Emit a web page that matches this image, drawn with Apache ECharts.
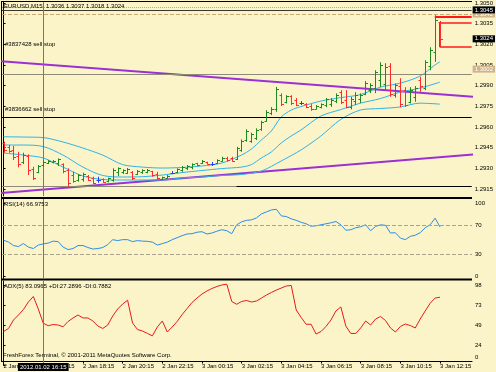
<!DOCTYPE html>
<html>
<head>
<meta charset="utf-8">
<script src="https://cdn.jsdelivr.net/npm/echarts@6.0.0/dist/echarts.min.js"></script>
<style>
html,body{margin:0;padding:0;background:#faf4c8;}
#chart{width:496px;height:372px;}
</style>
</head>
<body>
<div id="chart"></div>
<script>
// ---------------- DATA ----------------
const symbolName = 'EURUSD,M15';
const timeTickIndex = [0, 8, 16, 24, 32, 40, 48, 56, 64, 72, 80, 88];
const timeLabels = ['2 Jan 14:15','2 Jan 16:15','2 Jan 18:15','2 Jan 20:15','2 Jan 22:15','3 Jan 00:15',
                    '3 Jan 02:15','3 Jan 04:15','3 Jan 06:15','3 Jan 08:15','3 Jan 10:15','3 Jan 12:15'];
const crossIndex = 8;
const crossLabel = '2012.01.02 16:15';
const priceTicks = [1.2915, 1.2930, 1.2945, 1.2960, 1.2975, 1.2990, 1.3005, 1.3020, 1.3035, 1.3050];
const rsiTicks = [0, 30, 70, 100];
const rsiLevels = [30, 70];
const adxTicks = [0, 24, 49, 73, 98];

// bars: [open, high, low, close], 15-minute bars from 2 Jan 14:15
const ohlc = [
[1.29483,1.29493,1.29413,1.29433],[1.29454,1.29469,1.29413,1.29425],[1.29433,1.29462,1.29360,1.29382],
[1.29389,1.29420,1.29307,1.29331],[1.29346,1.29413,1.29331,1.29396],[1.29389,1.29401,1.29251,1.29288],
[1.29295,1.29311,1.29215,1.29230],[1.29273,1.29324,1.29264,1.29317],[1.29324,1.29360,1.29311,1.29346],
[1.29338,1.29360,1.29331,1.29353],[1.29346,1.29360,1.29336,1.29353],[1.29338,1.29372,1.29317,1.29367],
[1.29331,1.29336,1.29264,1.29280],[1.29288,1.29300,1.29166,1.29193],[1.29251,1.29275,1.29195,1.29208],
[1.29215,1.29259,1.29203,1.29251],[1.29222,1.29268,1.29203,1.29259],[1.29244,1.29251,1.29208,1.29215],
[1.29230,1.29239,1.29186,1.29193],[1.29215,1.29239,1.29195,1.29215],[1.29222,1.29227,1.29195,1.29201],
[1.29208,1.29232,1.29198,1.29230],[1.29215,1.29300,1.29203,1.29288],[1.29273,1.29307,1.29244,1.29302],
[1.29273,1.29293,1.29259,1.29288],[1.29266,1.29302,1.29259,1.29295],[1.29273,1.29280,1.29215,1.29230],
[1.29259,1.29288,1.29251,1.29280],[1.29273,1.29293,1.29259,1.29288],[1.29273,1.29295,1.29264,1.29285],
[1.29280,1.29282,1.29239,1.29251],[1.29259,1.29275,1.29220,1.29230],[1.29222,1.29239,1.29215,1.29237],
[1.29230,1.29251,1.29224,1.29244],[1.29269,1.29280,1.29259,1.29269],[1.29273,1.29300,1.29264,1.29295],
[1.29288,1.29317,1.29275,1.29309],[1.29302,1.29324,1.29288,1.29317],[1.29309,1.29336,1.29293,1.29331],
[1.29338,1.29340,1.29317,1.29324],[1.29335,1.29360,1.29331,1.29353],[1.29346,1.29348,1.29328,1.29331],
[1.29331,1.29346,1.29317,1.29331],[1.29335,1.29365,1.29331,1.29360],[1.29353,1.29384,1.29348,1.29378],
[1.29378,1.29384,1.29348,1.29360],[1.29375,1.29384,1.29348,1.29353],[1.29367,1.29456,1.29360,1.29447],
[1.29433,1.29510,1.29420,1.29498],[1.29505,1.29583,1.29493,1.29570],[1.29498,1.29558,1.29485,1.29549],
[1.29520,1.29590,1.29505,1.29578],[1.29585,1.29645,1.29572,1.29636],[1.29643,1.29722,1.29638,1.29708],
[1.29701,1.29744,1.29686,1.29730],[1.29730,1.29891,1.29710,1.29875],[1.29831,1.29844,1.29752,1.29766],
[1.29780,1.29831,1.29771,1.29824],[1.29824,1.29831,1.29759,1.29773],[1.29795,1.29810,1.29752,1.29759],
[1.29773,1.29788,1.29759,1.29773],[1.29766,1.29773,1.29737,1.29744],[1.29752,1.29766,1.29717,1.29730],
[1.29733,1.29759,1.29728,1.29752],[1.29744,1.29771,1.29735,1.29766],[1.29759,1.29810,1.29744,1.29802],
[1.29766,1.29810,1.29746,1.29795],[1.29788,1.29844,1.29773,1.29831],[1.29853,1.29867,1.29766,1.29780],
[1.29795,1.29867,1.29735,1.29744],[1.29744,1.29819,1.29728,1.29802],[1.29788,1.29853,1.29759,1.29831],
[1.29802,1.29844,1.29773,1.29831],[1.29838,1.29933,1.29831,1.29918],[1.29867,1.29918,1.29846,1.29904],
[1.29882,1.30012,1.29846,1.29998],[1.29940,1.30070,1.29889,1.30049],[1.29911,1.30063,1.29867,1.30034],
[1.30041,1.30063,1.29819,1.29838],[1.29831,1.29916,1.29813,1.29904],[1.29897,1.29954,1.29744,1.29766],
[1.29867,1.29889,1.29746,1.29759],[1.29780,1.29889,1.29771,1.29867],[1.29817,1.29897,1.29783,1.29882],
[1.29940,1.29964,1.29855,1.29897],[1.29882,1.30085,1.29867,1.30070],[1.30041,1.30179,1.30012,1.30157],
[1.30143,1.30411,1.30073,1.30375],[1.3036,1.3037,1.3018,1.3024]
];

// three band lines: [bar index, price]
const bandUpper = [[0,1.29529],[4,1.29527],[8,1.29523],[12,1.29491],[16,1.29447],[20,1.29396],[24,1.29327],
  [28,1.29309],[32,1.29302],[36,1.29306],[40,1.29317],[44,1.29338],[48,1.29396],[50,1.29440],[52,1.29505],
  [54,1.29570],[56,1.29672],[58,1.29722],[60,1.29748],[64,1.29788],[68,1.29813],[72,1.29835],[76,1.29889],
  [80,1.29918],[84,1.29969],[87,1.30049],[88,1.30073]];
const bandMiddle = [[0,1.29469],[4,1.29469],[8,1.29458],[12,1.29396],[16,1.29309],[20,1.29248],[24,1.29237],
  [28,1.29239],[32,1.29251],[36,1.29269],[40,1.29284],[44,1.29298],[48,1.29309],[50,1.29327],[52,1.29375],
  [54,1.29418],[56,1.29483],[58,1.29534],[60,1.29578],[64,1.29679],[68,1.29726],[72,1.29773],[76,1.29806],
  [80,1.29853],[84,1.29882],[88,1.29925]];
const bandLower = [[0,1.29411],[4,1.29396],[8,1.29375],[12,1.29309],[16,1.29244],[20,1.29219],[24,1.29215],
  [28,1.29215],[32,1.29215],[36,1.29230],[40,1.29237],[44,1.29248],[48,1.29255],[52,1.29280],[56,1.29353],
  [60,1.29433],[64,1.29534],[68,1.29654],[72,1.29723],[76,1.29734],[80,1.29745],[84,1.29773],[88,1.29766]];

// trend lines: [bar index, price]
const trendDown = [[-1,1.30078],[95,1.29818]];
const trendUp = [[-1,1.29120],[95,1.29401]];

// horizontal objects (prices)
const dottedLevel = 1.3047;
const solidBoxLevel = 1.3045;
const tanDashLevel = 1.3042;
const bidLevel = 1.3024;
const tradeBoxLevel = 1.3002;
const greyLevels = [1.2998, 1.2917];
const blackSegment = [47, 1.2917];
const orderLevels = [1.3014, 1.2967];
const orderNames = ['#3837428 sell stop', '#3836662 sell stop'];
const redHigh = [87, 1.3040];
const redBox = [88, 1.3036, 1.3018];

const rsiValues = [
49.0,46.3,41.6,40.2,44.3,39.5,37.5,42.3,43.9,45.0,
47.7,47.0,39.5,36.1,37.5,41.6,41.6,38.9,36.8,37.5,
38.9,42.9,49.7,48.4,49.7,49.7,47.0,48.4,47.7,47.4,
46.3,42.3,44.3,46.3,49.7,52.4,55.2,57.5,57.9,59.9,
60.6,57.5,58.8,61.3,63.3,62.0,57.9,70.1,74.2,76.2,
76.9,79.6,85.1,87.8,90.5,91.4,82.3,81.4,78.3,76.2,
73.5,71.5,68.1,68.7,70.1,71.5,72.8,74.6,70.1,62.6,
63.3,66.0,67.4,70.1,62.0,67.8,70.1,69.4,58.8,59.2,
51.8,49.7,54.2,55.8,59.2,66.0,70.1,79.2,66.9753];

const adxValues = [
41.3,45.0,55.3,61.4,68.1,77.3,84.0,68.7,51.3,48.4,
49.8,49.2,47.1,53.5,57.8,61.4,57.8,57.8,54.1,48.0,
45.0,49.2,60.2,68.7,74.8,79.5,51.7,43.7,41.9,38.9,
36.0,46.8,54.1,40.7,46.8,53.5,62.0,69.3,76.7,82.1,
87.0,90.7,93.7,96.2,98.0,99.0,77.9,74.5,77.9,79.1,
77.3,78.5,82.1,85.8,88.9,91.9,94.3,96.8,97.4,67.5,
58.4,50.1,50.1,38.2,41.3,47.4,55.3,66.3,71.2,48.0,
38.9,38.9,45.6,54.1,49.2,56.5,59.6,54.7,45.6,40.7,
47.4,50.4,48.6,45.6,56.5,66.3,75.7,82.1,83.0965];
const plusDI = 27.2896, minusDI = 0.7882;

// ---------------- STYLE / LAYOUT ----------------
const FONT = '"Liberation Sans", Arial, sans-serif';
const UP = '#1d8a1d', DOWN = '#ff2b2b', DOJI = '#1f3dff';
const BAND = '#2fb3ea', PURPLE = '#9b30d4';
const CLEAR = 'rgba(0,0,0,0)';
const XMIN = -0.32, XMAX = 94.44;
const txt = {fontSize: 6, fontFamily: FONT, color: '#000'};

const last = ohlc[ohlc.length - 1];
const chart = echarts.init(document.getElementById('chart'), null, {renderer: 'canvas'});

function renderBar(params, api) {
  const i = api.value(0), o = api.value(1), h = api.value(2), l = api.value(3), c = api.value(4);
  const pH = api.coord([i, h]), pL = api.coord([i, l]), pO = api.coord([i, o]), pC = api.coord([i, c]);
  const col = c > o ? UP : (c < o ? DOWN : DOJI);
  const x = Math.round(pH[0]) + 0.5;
  const st = {stroke: col, lineWidth: 1};
  return {type: 'group', children: [
    {type: 'line', shape: {x1: x, y1: pH[1], x2: x, y2: pL[1]}, style: st},
    {type: 'line', shape: {x1: x - 2, y1: Math.round(pO[1]) + 0.5, x2: x, y2: Math.round(pO[1]) + 0.5}, style: st},
    {type: 'line', shape: {x1: x, y1: Math.round(pC[1]) + 0.5, x2: x + 2.5, y2: Math.round(pC[1]) + 0.5}, style: st}
  ]};
}

const boxLabel = (text, bg) => ({show: true, position: 'end', distance: 1, formatter: text,
  backgroundColor: bg, color: '#fff', padding: [1, 2, 0, 2], fontSize: 6, fontFamily: FONT});
const noLabel = {show: false};
const crossLine = {xAxis: crossIndex, lineStyle: {color: '#77776a', width: 1, type: 'solid'}, label: noLabel};

const mainMarks = [
  {yAxis: dottedLevel, lineStyle: {color: '#b3ab8c', type: 'dotted', width: 1}, label: noLabel},
  {yAxis: tanDashLevel, lineStyle: {color: '#c9a977', type: 'dashed', width: 1}, label: boxLabel(tanDashLevel.toFixed(4), '#d2b48c')},
  {yAxis: solidBoxLevel, lineStyle: {color: '#3a3a2a', type: 'solid', width: 1}, label: boxLabel(solidBoxLevel.toFixed(4), '#000')},
  {yAxis: tradeBoxLevel, lineStyle: {color: CLEAR, width: 1}, label: boxLabel(tradeBoxLevel.toFixed(4), '#d2b48c')},
  {yAxis: bidLevel, lineStyle: {color: CLEAR, width: 1}, label: boxLabel(bidLevel.toFixed(4), '#000')},
  {yAxis: greyLevels[0], lineStyle: {color: '#8d8a7a', type: 'solid', width: 1}, label: noLabel},
  {yAxis: greyLevels[1], lineStyle: {color: '#8d8a7a', type: 'solid', width: 1}, label: noLabel},
  {yAxis: orderLevels[0], lineStyle: {color: CLEAR, width: 1},
    label: {show: true, position: 'insideStartTop', distance: [3, 5], formatter: orderNames[0], ...txt}},
  {yAxis: orderLevels[1], lineStyle: {color: '#000', type: 'solid', width: 1},
    label: {show: true, position: 'insideStartTop', distance: [3, 5], formatter: orderNames[1], ...txt}},
  [{coord: [blackSegment[0], blackSegment[1]], lineStyle: {color: '#000', width: 1, type: 'solid'}, label: noLabel},
   {coord: [XMAX, blackSegment[1]]}],
  [{coord: [redHigh[0], redHigh[1]], lineStyle: {color: '#ff1a1a', width: 2, type: 'solid'}, label: noLabel},
   {coord: [XMAX, redHigh[1]]}],
  [{coord: [redBox[0], redBox[1]], lineStyle: {color: '#ff1a1a', width: 1.5, type: 'solid'}, label: noLabel},
   {coord: [XMAX, redBox[1]]}],
  [{coord: [redBox[0], redBox[2]], lineStyle: {color: '#ff1a1a', width: 1.5, type: 'solid'}, label: noLabel},
   {coord: [XMAX, redBox[2]]}],
  [{coord: [redBox[0], redBox[1]], lineStyle: {color: '#ff1a1a', width: 1, type: 'solid'}, label: noLabel},
   {coord: [redBox[0], redBox[2]]}],
  crossLine
];

const hiddenX = (g) => ({gridIndex: g, type: 'value', min: XMIN, max: XMAX, show: false});
const yBase = (g, min, max, ticks, fmt) => ({
  gridIndex: g, type: 'value', position: 'right', min: min, max: max,
  axisLine: {show: true, lineStyle: {color: '#000', width: 1}},
  axisTick: {show: true, customValues: ticks, length: 2, lineStyle: {color: '#000'}},
  axisLabel: {customValues: ticks, formatter: fmt, margin: 3, ...txt,
    rich: {lift: {fontSize: 6, fontFamily: FONT, color: '#000', padding: [0, 0, 17, 0]}}},
  splitLine: {show: false}
});

const option = {
  backgroundColor: '#faf4c8',
  animation: false,
  textStyle: {fontFamily: FONT},
  title: [
    {text: symbolName + '  ' + last.map(v => v.toFixed(4)).join(' '), left: 4, top: 3, padding: 0,
     textStyle: {...txt, fontWeight: 'normal'}},
    {text: 'RSI(14) ' + rsiValues[rsiValues.length - 1].toFixed(4), left: 4, top: 201, padding: 0,
     textStyle: {...txt, fontWeight: 'normal'}},
    {text: 'ADX(5) ' + adxValues[adxValues.length - 1].toFixed(4) + ' +DI:' + plusDI.toFixed(4) + ' -DI:' + minusDI.toFixed(4),
     left: 4, top: 283, padding: 0, textStyle: {...txt, fontWeight: 'normal'}},
    {text: 'FreshForex Terminal, \u00a9 2001-2011 MetaQuotes Software Corp.', left: 3, top: 352.5, padding: 0,
     textStyle: {...txt, fontWeight: 'normal'}}
  ],
  grid: [
    {left: 2, top: 2, width: 470, height: 194},
    {left: 2, top: 199, width: 470, height: 80},
    {left: 2, top: 281, width: 470, height: 84.36}
  ],
  xAxis: [
    hiddenX(0), hiddenX(1),
    {gridIndex: 2, type: 'value', min: XMIN, max: XMAX, position: 'bottom', offset: -3.86,
     axisLine: {show: true, lineStyle: {color: '#000', width: 1}},
     axisTick: {show: true, customValues: timeTickIndex, length: 2, lineStyle: {color: '#000'}},
     axisLabel: {customValues: timeTickIndex, formatter: v => timeLabels[timeTickIndex.indexOf(v)],
                 align: 'left', margin: 2, ...txt},
     splitLine: {show: false}}
  ],
  yAxis: [
    yBase(0, 1.29099, 1.30505, priceTicks, v => v.toFixed(4)),
    yBase(1, -4.3, 105.5, rsiTicks, v => String(v)),
    yBase(2, 0, 102.88, adxTicks, v => v === 0 ? '{lift|0}' : String(v))
  ],
  series: [
    {type: 'line', name: 'trendDown', xAxisIndex: 0, yAxisIndex: 0, data: trendDown, symbol: 'none',
     lineStyle: {color: PURPLE, width: 2}, clip: true, z: 2, silent: true,
     markLine: {symbol: ['none', 'none'], silent: true, animation: false, precision: 6, data: mainMarks}},
    {type: 'line', name: 'trendUp', xAxisIndex: 0, yAxisIndex: 0, data: trendUp, symbol: 'none',
     lineStyle: {color: PURPLE, width: 2}, clip: true, z: 2, silent: true},
    {type: 'line', name: 'upper', xAxisIndex: 0, yAxisIndex: 0, data: bandUpper, symbol: 'none', smooth: 0.3,
     lineStyle: {color: BAND, width: 1}, z: 3, silent: true},
    {type: 'line', name: 'middle', xAxisIndex: 0, yAxisIndex: 0, data: bandMiddle, symbol: 'none', smooth: 0.3,
     lineStyle: {color: BAND, width: 1}, z: 3, silent: true},
    {type: 'line', name: 'lower', xAxisIndex: 0, yAxisIndex: 0, data: bandLower, symbol: 'none', smooth: 0.3,
     lineStyle: {color: BAND, width: 1}, z: 3, silent: true},
    {type: 'custom', name: 'bars', xAxisIndex: 0, yAxisIndex: 0, renderItem: renderBar, clip: true, z: 5,
     encode: {x: 0, y: [1, 2, 3, 4]}, data: ohlc.map((d, i) => [i, d[0], d[1], d[2], d[3]]), silent: true},
    {type: 'line', name: 'RSI', xAxisIndex: 1, yAxisIndex: 1, data: rsiValues.map((v, i) => [i, v]), symbol: 'none',
     lineStyle: {color: '#2c8de8', width: 1}, clip: true, silent: true,
     markLine: {symbol: ['none', 'none'], silent: true, animation: false, precision: 6, data: [
       ...rsiLevels.map(v => ({yAxis: v, lineStyle: {color: '#aaa28a', type: 'dashed', width: 1}, label: noLabel})),
       crossLine]}},
    {type: 'line', name: 'ADX', xAxisIndex: 2, yAxisIndex: 2, data: adxValues.map((v, i) => [i, v]), symbol: 'none',
     lineStyle: {color: '#e81a1a', width: 1}, clip: true, silent: true,
     markLine: {symbol: ['none', 'none'], silent: true, animation: false, precision: 6, data: [crossLine]}}
  ],
  graphic: [
    {type: 'line', shape: {x1: 1.5, y1: 1.5, x2: 472, y2: 1.5}, style: {stroke: '#000', lineWidth: 1}, silent: true},
    {type: 'line', shape: {x1: 1.5, y1: 1, x2: 1.5, y2: 362}, style: {stroke: '#000', lineWidth: 1}, silent: true},
    {type: 'line', shape: {x1: 1, y1: 198, x2: 472, y2: 198}, style: {stroke: '#000', lineWidth: 2}, silent: true},
    {type: 'line', shape: {x1: 1, y1: 279.5, x2: 472, y2: 279.5}, style: {stroke: '#000', lineWidth: 2}, silent: true}
  ]
};
chart.setOption(option);

// crosshair time box positioned from the axis scale
const cx = chart.convertToPixel({xAxisIndex: 2}, crossIndex);
chart.setOption({graphic: [
  ...option.graphic,
  {type: 'text', x: cx, y: 363, z: 100, silent: true,
   style: {text: crossLabel, fill: '#fff', backgroundColor: '#000', padding: [1, 2, 1, 2],
           font: '6px ' + FONT, align: 'center', verticalAlign: 'top'}}
]});
</script>
</body>
</html>
